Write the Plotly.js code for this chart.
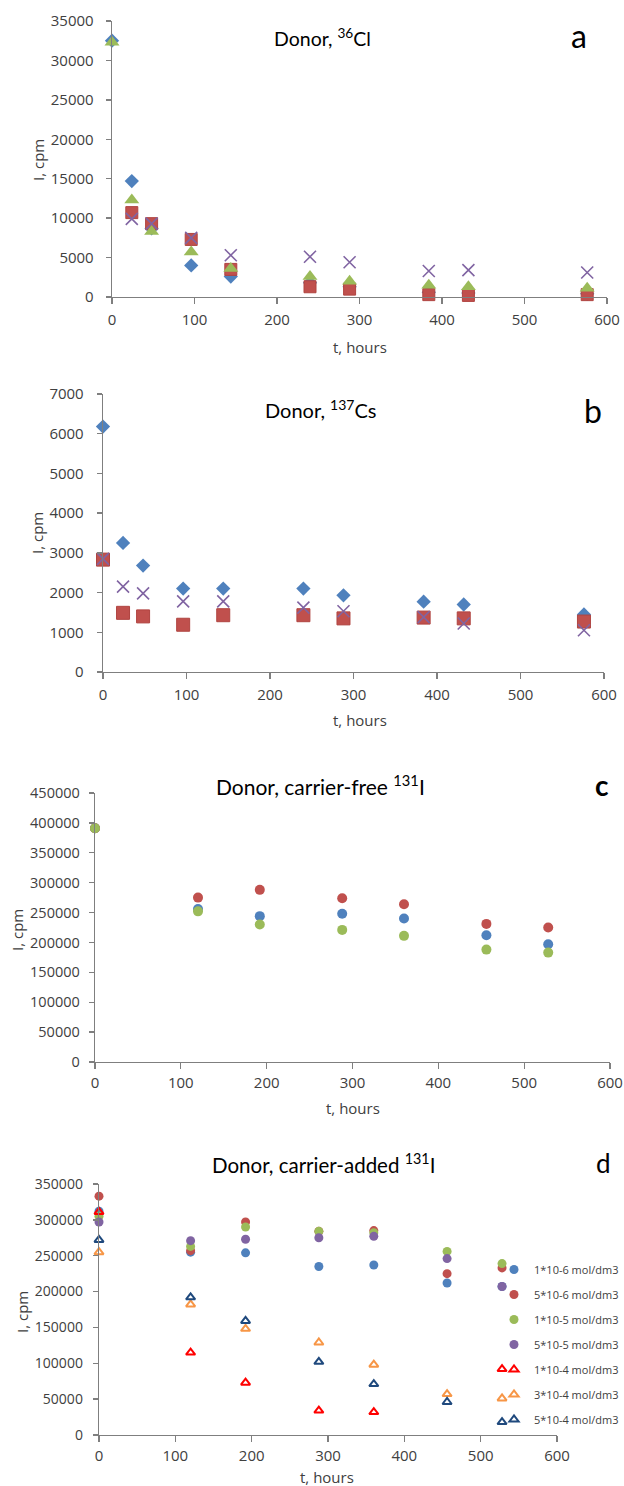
<!DOCTYPE html>
<html>
<head>
<meta charset="utf-8">
<script src="https://cdn.plot.ly/plotly-3.0.1.min.js"></script>
<style>html,body{margin:0;padding:0;background:#fff;}#chart{width:624px;height:1486px;}</style>
</head>
<body>
<div id="chart"></div>
<script>
// ---------- Panel a: Donor, 36Cl ----------
const tA = [0, 24, 48, 96, 144, 240, 288, 384, 432, 576];
const a_diamond = [32500, 14700, 8700, 4000, 2600, 1800, 1300, 600, 500, 400];
const a_square  = [null, 10700, 9300, 7300, 3500, 1300, 1000, 300, 200, 300];
const a_triangle= [32300, 12300, 8300, 5700, 3600, 2600, 2000, 1500, 1300, 1100];
const a_cross   = [null, 9900, 9300, 7500, 5300, 5100, 4400, 3300, 3400, 3100];

// ---------- Panel b: Donor, 137Cs ----------
const tB = [0, 24, 48, 96, 144, 240, 288, 384, 432, 576];
const b_diamond = [6180, 3250, 2680, 2100, 2100, 2100, 1930, 1770, 1700, 1450];
const b_square  = [2830, 1490, 1400, 1190, 1430, 1430, 1350, 1370, 1350, 1270];
const b_cross   = [2850, 2150, 1980, 1780, 1780, 1620, 1530, 1380, 1220, 1050];

// ---------- Panel c: Donor, carrier-free 131I ----------
const tC = [0, 120, 192, 288, 360, 456, 528];
const c_blue  = [391000, 256000, 244000, 248000, 240000, 212000, 197000];
const c_red   = [391000, 275000, 288000, 274000, 264000, 231000, 225000];
const c_green = [391000, 252000, 230000, 221000, 211000, 188000, 183000];

// ---------- Panel d: Donor, carrier-added 131I ----------
const tD = [0, 120, 192, 288, 360, 456, 528];
const dNames = ["1*10-6 mol/dm3", "5*10-6 mol/dm3", "1*10-5 mol/dm3", "5*10-5 mol/dm3",
                "1*10-4 mol/dm3", "3*10-4 mol/dm3", "5*10-4 mol/dm3"];
const d_1e6 = [312000, 255000, 254000, 235000, 237000, 212000, 207000];
const d_5e6 = [333000, 257000, 297000, 284000, 285000, 225000, 233000];
const d_1e5 = [305000, 263000, 290000, 284000, 282000, 256000, 239000];
const d_5e5 = [297000, 271000, 273000, 275000, 277000, 246000, 207000];
const d_1e4 = [311000, 115000, 73000, 34000, 32000, null, 92000];
const d_3e4 = [255000, 182000, 148000, 129000, 98000, 57000, 51000];
const d_5e4 = [272000, 192000, 159000, 102000, 71000, 46000, 18000];

const xTicks = [0, 100, 200, 300, 400, 500, 600];

// ---------- helpers ----------
const W = 624, H = 1486;
const FONT = "Lato, 'Open Sans', sans-serif";
const FONT2 = "'Open Sans', sans-serif";
const px = v => v / W;
const py = v => 1 - v / H;
const BLUE = '#4F81BD', RED = '#C0504D', GREEN = '#9BBB59', PURPLE = '#8064A2';

function sc(x, y, xa, ya, name, marker, legend) {
  return {type: 'scatter', mode: 'markers', x: x, y: y, xaxis: xa, yaxis: ya,
          name: name, marker: marker, showlegend: !!legend, legendgroup: name,
          cliponaxis: false, hoverinfo: 'skip'};
}

const data = [
  sc(tA, a_diamond, 'x', 'y', 'a1', {symbol: 'diamond', size: 11, color: BLUE}),
  sc(tA, a_square, 'x', 'y', 'a2', {symbol: 'square', size: 12, color: RED, line: {color: '#B04440', width: 1}}),
  sc(tA, a_triangle, 'x', 'y', 'a3', {symbol: 'triangle-up', size: 13, color: GREEN}),
  sc(tA, a_cross, 'x', 'y', 'a4', {symbol: 'x-thin', size: 12, color: PURPLE, line: {color: PURPLE, width: 1.6}}),

  sc(tB, b_diamond, 'x2', 'y2', 'b1', {symbol: 'diamond', size: 11, color: BLUE}),
  sc(tB, b_square, 'x2', 'y2', 'b2', {symbol: 'square', size: 13, color: RED, line: {color: '#B04440', width: 1}}),
  sc(tB, b_cross, 'x2', 'y2', 'b3', {symbol: 'x-thin', size: 12, color: PURPLE, line: {color: PURPLE, width: 1.6}}),

  sc(tC, c_blue, 'x3', 'y3', 'c1', {symbol: 'circle', size: 10, color: BLUE}),
  sc(tC, c_red, 'x3', 'y3', 'c2', {symbol: 'circle', size: 10, color: RED}),
  sc(tC, c_green, 'x3', 'y3', 'c3', {symbol: 'circle', size: 10, color: GREEN}),

  sc(tD, d_1e6, 'x4', 'y4', dNames[0], {symbol: 'circle', size: 9, color: BLUE}, true),
  sc(tD, d_5e6, 'x4', 'y4', dNames[1], {symbol: 'circle', size: 9, color: RED}, true),
  sc(tD, d_1e5, 'x4', 'y4', dNames[2], {symbol: 'circle', size: 9, color: GREEN}, true),
  sc(tD, d_5e5, 'x4', 'y4', dNames[3], {symbol: 'circle', size: 9, color: PURPLE}, true),
  sc(tD, d_1e4, 'x4', 'y4', dNames[4], {symbol: 'triangle-up-open', size: 8, color: '#FF0000', line: {color: '#FF0000', width: 2}}, true),
  sc(tD, d_3e4, 'x4', 'y4', dNames[5], {symbol: 'triangle-up-open', size: 8, color: '#F79646', line: {color: '#F79646', width: 2}}, true),
  sc(tD, d_5e4, 'x4', 'y4', dNames[6], {symbol: 'triangle-up-open', size: 8, color: '#1F497D', line: {color: '#1F497D', width: 2}}, true)
];

function xax(l, r, anchor, standoff) {
  return {domain: [px(l), px(r)], anchor: anchor, range: [0, 600], tickvals: xTicks,
          showgrid: false, zeroline: false, showline: true, linecolor: '#7F7F7F', linewidth: 1.3,
          ticks: 'outside', ticklen: 6, tickcolor: '#7F7F7F', tickwidth: 1.3, automargin: false,
          ticklabelstandoff: standoff, tickfont: {family: FONT2, size: 15, color: '#404040'}};
}
function yax(top, bot, anchor, max, dtick, fsize, standoff) {
  return {domain: [py(bot), py(top)], anchor: anchor, range: [0, max], dtick: dtick,
          showgrid: false, zeroline: false, showline: true, linecolor: '#7F7F7F', linewidth: 1.3,
          ticks: 'outside', ticklen: 5, tickcolor: '#7F7F7F', tickwidth: 1.3, automargin: false,
          ticklabelstandoff: standoff, tickformat: 'd',
          tickfont: {family: FONT2, size: fsize, color: '#404040'}};
}

function ann(text, x, y, size, opts) {
  return Object.assign({text: text, xref: 'paper', yref: 'paper', x: px(x), y: py(y),
          xanchor: 'center', yanchor: 'middle', showarrow: false,
          font: {family: FONT, size: size, color: '#000'}}, opts || {});
}
function ylab(x, y) { return ann('I, cpm', x, y, 15, {textangle: -90, font: {family: FONT2, size: 15, color: '#404040'}}); }
function xlab(x, y) { return ann('t, hours', x, y, 15, {font: {family: FONT2, size: 15, color: '#404040'}}); }

const layout = {
  width: W, height: H, margin: {l: 0, r: 0, t: 0, b: 0, autoexpand: false},
  paper_bgcolor: '#fff', plot_bgcolor: 'rgba(0,0,0,0)',
  font: {family: FONT2},
  xaxis: xax(112, 607, 'y', 3),
  yaxis: yax(21, 297, 'x', 35000, 5000, 15, 9),
  xaxis2: xax(103, 604, 'y2', 3),
  yaxis2: yax(394, 672, 'x2', 7000, 1000, 15, 10),
  xaxis3: xax(95, 610, 'y3', 1),
  yaxis3: yax(793, 1062, 'x3', 450000, 50000, 14.5, 6),
  xaxis4: xax(99, 557, 'y4', 1),
  yaxis4: yax(1184, 1435, 'x4', 350000, 50000, 14, 7),
  showlegend: true,
  legend: {x: px(494), y: py(1255), xanchor: 'left', yanchor: 'top',
           font: {family: FONT2, size: 11, color: '#404040'}, tracegroupgap: 6,
           bgcolor: 'rgba(0,0,0,0)', itemclick: false, itemdoubleclick: false},
  annotations: [
    ann('Donor, <sup>36</sup>Cl', 322, 37, 19.5),
    ann('a', 579, 36, 32),
    ann('Donor, <sup>137</sup>Cs', 321, 409, 20),
    ann('b', 593, 410, 32),
    ann('Donor, carrier-free <sup>131</sup>I', 320, 785, 21),
    ann('<b>c</b>', 602, 785, 28),
    ann('Donor, carrier-added <sup>131</sup>I', 323, 1163, 20.5),
    ann('d', 603, 1163, 26),
    ylab(38, 160), xlab(360, 347),
    ylab(37, 533), xlab(360, 720),
    ylab(17, 930), xlab(353, 1108),
    ylab(22, 1312), xlab(327, 1477)
  ]
};

Plotly.newPlot('chart', data, layout, {staticPlot: true, displayModeBar: false});
</script>
</body>
</html>
